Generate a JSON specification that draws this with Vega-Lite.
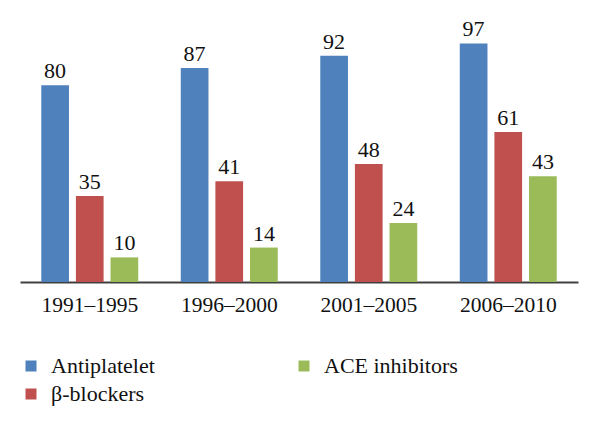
{
  "$schema": "https://vega.github.io/schema/vega-lite/v6.json",
  "width": 558,
  "height": 246,
  "autosize": {"type": "none"},
  "padding": {"left": 20, "top": 36, "right": 22, "bottom": 145},
  "background": "white",
  "config": {
    "view": {"stroke": null},
    "font": "Liberation Serif"
  },
  "data": {
    "values": [
      {"period": "1991–1995", "drug": "Antiplatelet", "value": 80},
      {"period": "1991–1995", "drug": "β-blockers", "value": 35},
      {"period": "1991–1995", "drug": "ACE inhibitors", "value": 10},
      {"period": "1996–2000", "drug": "Antiplatelet", "value": 87},
      {"period": "1996–2000", "drug": "β-blockers", "value": 41},
      {"period": "1996–2000", "drug": "ACE inhibitors", "value": 14},
      {"period": "2001–2005", "drug": "Antiplatelet", "value": 92},
      {"period": "2001–2005", "drug": "β-blockers", "value": 48},
      {"period": "2001–2005", "drug": "ACE inhibitors", "value": 24},
      {"period": "2006–2010", "drug": "Antiplatelet", "value": 97},
      {"period": "2006–2010", "drug": "β-blockers", "value": 61},
      {"period": "2006–2010", "drug": "ACE inhibitors", "value": 43}
    ]
  },
  "encoding": {
    "x": {
      "field": "period",
      "type": "nominal",
      "sort": null,
      "scale": {"paddingInner": 0.305, "paddingOuter": 0.1525},
      "axis": {
        "title": null,
        "labelAngle": 0,
        "ticks": false,
        "domainColor": "#404040",
        "domainWidth": 2,
        "labelFont": "Liberation Serif",
        "labelFontSize": 21.5,
        "labelColor": "#111111",
        "labelPadding": 12
      }
    },
    "xOffset": {
      "field": "drug",
      "type": "nominal",
      "sort": ["Antiplatelet", "β-blockers", "ACE inhibitors"],
      "scale": {"paddingInner": 0.2, "paddingOuter": 0}
    },
    "y": {
      "field": "value",
      "type": "quantitative",
      "scale": {"domain": [0, 100], "nice": false},
      "axis": null
    }
  },
  "layer": [
    {
      "mark": {"type": "bar"},
      "encoding": {
        "color": {
          "field": "drug",
          "type": "nominal",
          "scale": {
            "domain": ["Antiplatelet", "ACE inhibitors", "β-blockers"],
            "range": ["#4F81BD", "#9BBB59", "#C0504D"]
          },
          "legend": {
            "title": null,
            "orient": "none",
            "legendX": 0,
            "legendY": 319,
            "padding": 0,
            "direction": "horizontal",
            "columns": 2,
            "columnPadding": 138,
            "rowPadding": 6,
            "symbolType": "square",
            "symbolSize": 121,
            "symbolStrokeWidth": 0,
            "symbolOffset": 0,
            "labelOffset": 9,
            "labelFont": "Liberation Serif",
            "labelFontSize": 22,
            "labelColor": "#111111",
            "labelLimit": 300
          }
        }
      }
    },
    {
      "mark": {"type": "text", "baseline": "alphabetic", "dy": -7, "fontSize": 22, "font": "Liberation Serif", "color": "#111111"},
      "encoding": {
        "text": {"field": "value", "type": "quantitative"}
      }
    }
  ]
}
